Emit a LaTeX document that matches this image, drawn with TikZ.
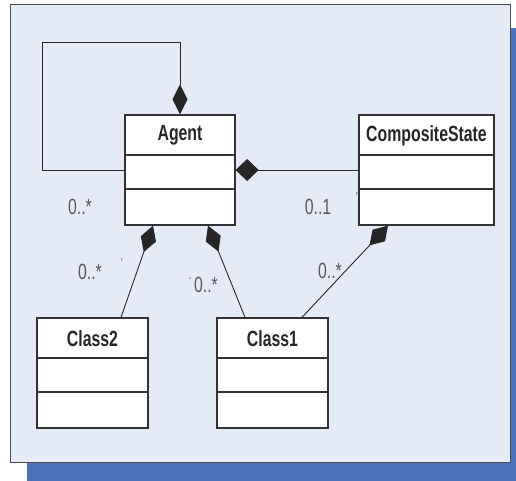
\documentclass[tikz,border=0pt]{standalone}
\usepackage{fontspec}
\setmainfont{Liberation Sans}[FakeStretch=0.72]
\usepackage{tikz}
\usetikzlibrary{arrows.meta, positioning}

\definecolor{panelblue}{HTML}{E4EAF6}
\definecolor{shadowblue}{HTML}{4A74BA}

\tikzset{
  umlclass/.style={draw=black!80, fill=white, line width=1.3pt, minimum height=110pt, inner sep=0pt},
  classname/.style={font=\fontsize{22}{26}\selectfont\bfseries, text=black!85},
  mult/.style={font=\fontsize{22}{26}\selectfont, text=black!65},
  tick/.style={font=\fontsize{13}{15}\selectfont, text=black!70},
  comp/.style={draw=black!85, line width=0.9pt},
}

\begin{document}
\begin{tikzpicture}[x=1pt, y=-1pt]
    \useasboundingbox (0,0) rectangle (516,481);

    % Fondo
    \fill[shadowblue] (27,28) rectangle (516,481);
    \draw[fill=panelblue, draw=black!70, line width=1pt] (10,5) rectangle (510,462);

    % Clases
    \node[umlclass, minimum width=110pt] (agent) at (180,170) {};
    \node[umlclass, minimum width=135pt] (cstate) at (426.5,170) {};
    \node[umlclass, minimum width=111pt] (class2) at (92.5,373) {};
    \node[umlclass, minimum width=111pt] (class1) at (272.5,373) {};

    \node[classname] (agentname) at ([yshift=-21pt]agent.north) {Agent};
    \node[classname] (cstatename) at ([yshift=-21pt]cstate.north) {CompositeState};
    \node[classname] (class2name) at ([yshift=-21pt]class2.north) {Class2};
    \node[classname] (class1name) at ([yshift=-21pt]class1.north) {Class1};

    % Compartimentos
    \foreach \c in {agent, cstate, class2, class1} {
        \draw[line width=1.3pt, draw=black!80] ([yshift=15pt]\c.west) -- ([yshift=15pt]\c.east);
        \draw[line width=1.3pt, draw=black!80] ([yshift=-19pt]\c.west) -- ([yshift=-19pt]\c.east);
    }

    % Composiciones
    \draw[comp, -{Diamond[length=30pt, width=15pt]}] (agent.west) -- ++(-82,0)
        |- ([yshift=72pt]agent.north) -- (agent.north);
    \draw[comp, {Diamond[length=23pt, width=22pt]}-] (agent.east) -- (cstate.west);
    \draw[comp, {Diamond[length=28pt, width=16pt]}-] ([xshift=-27pt]agent.south) -- ([xshift=28.5pt]class2.north);
    \draw[comp, {Diamond[length=28pt, width=16pt]}-] ([xshift=28pt]agent.south) -- ([xshift=-27.5pt]class1.north);
    \draw[comp, {Diamond[length=27pt, width=17pt]}-] ([xshift=-38.5pt]cstate.south) -- ([xshift=29.5pt]class1.north);

    % Multiplicidades
    \node[mult] (m1) at (80,207) {0..*};
    \node[mult] (m2) at (318,207) {0..1};
    \node[mult] (m3) at (90,272) {0..*};
    \node[mult] (m4) at (206,285) {0..*};
    \node[mult] (m5) at (330,271) {0..*};
    \node[tick] (t1) at (122,263) {'};
    \node[tick] (t2) at (190,279) {.};
    \node[tick] (t3) at (357,197) {'};
\end{tikzpicture}
\end{document}
